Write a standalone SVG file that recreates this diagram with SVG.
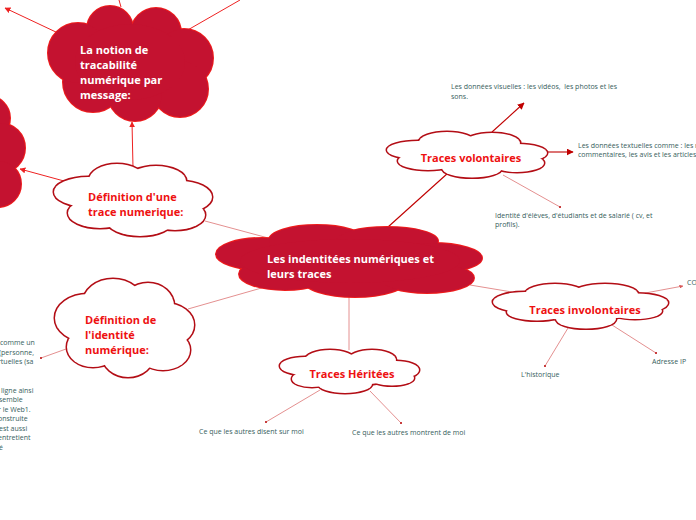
<svg xmlns="http://www.w3.org/2000/svg" xmlns:xlink="http://www.w3.org/1999/xlink" width="696" height="520" viewBox="0 0 696 520">
<style>
.bg{fill:#ffffff}
.ow{fill:#ffffff;stroke:#b30d15;stroke-width:3}
.fw{fill:#ffffff;stroke:none}
.of{fill:#c41230;stroke:#ee1c1c;stroke-width:2}
.ff{fill:#c41230;stroke:none}
.tw{font-family:"Open Sans","Noto Sans",sans-serif;font-weight:bold;font-size:11px;fill:#ffffff}
.tr{font-family:"Open Sans","Noto Sans",sans-serif;font-weight:bold;font-size:11px;fill:#ee1111}
.ts{font-family:"Open Sans","Noto Sans",sans-serif;font-size:7px;fill:#36605c}
.cd{stroke:#c00000;stroke-width:1.1;fill:none}
.cr{stroke:#ee2222;stroke-width:1;fill:none}
.cl{stroke:#e49090;stroke-width:1;fill:none}
</style>
<defs>
<marker id="ad" viewBox="0 0 10 10" refX="9" refY="5" markerWidth="7" markerHeight="7" orient="auto" markerUnits="userSpaceOnUse"><path d="M0,0L10,5L0,10z" fill="#c00000"/></marker>
<marker id="ar" viewBox="0 0 10 10" refX="9" refY="5" markerWidth="6" markerHeight="6" orient="auto" markerUnits="userSpaceOnUse"><path d="M0,0L10,5L0,10z" fill="#ee2222"/></marker>
<marker id="al" viewBox="0 0 10 10" refX="9" refY="5" markerWidth="4" markerHeight="4" orient="auto" markerUnits="userSpaceOnUse"><path d="M0,0L10,5L0,10z" fill="#d85858"/></marker>
<marker id="dot" viewBox="0 0 10 10" refX="5" refY="5" markerWidth="2.5" markerHeight="2.5" markerUnits="userSpaceOnUse"><circle cx="5" cy="5" r="5" fill="#c83a3a"/></marker>
<g id="c-central">
<ellipse cx="262" cy="254" rx="46" ry="16"/>
<ellipse cx="317" cy="240" rx="48" ry="15"/>
<ellipse cx="387" cy="241" rx="51" ry="14"/>
<ellipse cx="432" cy="258" rx="50" ry="15"/>
<ellipse cx="285" cy="274" rx="46" ry="16"/>
<ellipse cx="355" cy="280" rx="52" ry="17"/>
<ellipse cx="427" cy="278" rx="47" ry="15"/>
<ellipse cx="350" cy="261" rx="110" ry="22"/>
</g>
<g id="c-notion">
<circle cx="110" cy="29" r="23"/>
<circle cx="156" cy="33" r="25"/>
<circle cx="184" cy="58" r="29"/>
<circle cx="180" cy="89" r="28"/>
<circle cx="135" cy="94" r="27"/>
<circle cx="93" cy="82" r="30"/>
<circle cx="78" cy="53" r="30"/>
<ellipse cx="130" cy="62" rx="55" ry="38"/>
</g>
<g id="c-left">
<circle cx="-12" cy="118" r="22"/>
<circle cx="0" cy="148" r="25"/>
<circle cx="-2" cy="184" r="23"/>
</g>
<g id="c-deftrace">
<ellipse cx="88" cy="192" rx="34" ry="15"/>
<ellipse cx="117" cy="180" rx="28" ry="16"/>
<ellipse cx="156" cy="181" rx="30" ry="15"/>
<ellipse cx="180" cy="197" rx="32" ry="16"/>
<ellipse cx="175" cy="215" rx="30" ry="15"/>
<ellipse cx="140" cy="221" rx="33" ry="15"/>
<ellipse cx="100" cy="213" rx="32" ry="15"/>
<ellipse cx="133" cy="200" rx="60" ry="20"/>
</g>
<g id="c-defid">
<ellipse cx="88" cy="318" rx="33" ry="24"/>
<ellipse cx="113" cy="303" rx="30" ry="24"/>
<ellipse cx="148" cy="306" rx="26" ry="23"/>
<ellipse cx="165" cy="325" rx="29" ry="22"/>
<ellipse cx="163" cy="350" rx="27" ry="20"/>
<ellipse cx="128" cy="355" rx="26" ry="22"/>
<ellipse cx="93" cy="347" rx="26" ry="20"/>
<ellipse cx="125" cy="328" rx="50" ry="30"/>
</g>
<g id="c-vol">
<ellipse cx="418" cy="150" rx="31" ry="9"/>
<ellipse cx="447" cy="142" rx="28" ry="10"/>
<ellipse cx="492" cy="143" rx="28" ry="10"/>
<ellipse cx="518" cy="153" rx="29" ry="9"/>
<ellipse cx="517" cy="163" rx="27" ry="9"/>
<ellipse cx="472" cy="168" rx="30" ry="9.5"/>
<ellipse cx="428" cy="161" rx="30" ry="9"/>
<ellipse cx="467" cy="155" rx="65" ry="14"/>
</g>
<g id="c-invol">
<ellipse cx="525" cy="302" rx="32" ry="10"/>
<ellipse cx="555" cy="294" rx="30" ry="10"/>
<ellipse cx="605" cy="294" rx="33" ry="10"/>
<ellipse cx="637" cy="303" rx="31" ry="9.5"/>
<ellipse cx="635" cy="311" rx="27" ry="8"/>
<ellipse cx="586" cy="319" rx="30" ry="9.5"/>
<ellipse cx="537" cy="312" rx="30" ry="8.5"/>
<ellipse cx="580" cy="306" rx="70" ry="14"/>
</g>
<g id="c-her">
<ellipse cx="305" cy="366" rx="25" ry="9"/>
<ellipse cx="330" cy="360" rx="25" ry="10"/>
<ellipse cx="372" cy="360" rx="24" ry="10"/>
<ellipse cx="396" cy="370" rx="23" ry="9"/>
<ellipse cx="392" cy="378" rx="22" ry="7.5"/>
<ellipse cx="345" cy="384" rx="27" ry="9"/>
<ellipse cx="312" cy="379" rx="20" ry="8"/>
<ellipse cx="350" cy="372" rx="55" ry="13"/>
</g>
</defs>
<rect class="bg" x="0" y="0" width="696" height="520"/>
<g id="connectors">
<line class="cd" x1="388" y1="227" x2="448" y2="173"/>
<line class="cl" x1="272" y1="239" x2="205" y2="221"/>
<line class="cl" x1="265" y1="287" x2="188" y2="309"/>
<line class="cl" x1="470" y1="285" x2="512" y2="292"/>
<line class="cl" x1="349" y1="297" x2="349" y2="350"/>
<line class="cr" x1="133" y1="168" x2="132" y2="122" marker-end="url(#ar)"/>
<line class="cr" x1="64" y1="181" x2="20" y2="169" marker-end="url(#ar)"/>
<line class="cr" x1="58" y1="33" x2="5" y2="8" marker-end="url(#ar)"/>
<line class="cr" x1="121" y1="7" x2="119" y2="0"/>
<line class="cr" x1="186" y1="31" x2="240" y2="0"/>
<line class="cd" x1="492" y1="132" x2="524" y2="103" marker-end="url(#ad)"/>
<line class="cd" x1="546" y1="152" x2="573" y2="152" marker-end="url(#ad)"/>
<line class="cl" x1="503" y1="175" x2="560" y2="207" marker-end="url(#dot)"/>
<line class="cl" x1="66" y1="349" x2="41" y2="358" marker-end="url(#dot)"/>
<line class="cl" x1="640" y1="294" x2="683" y2="286" marker-end="url(#al)"/>
<line class="cl" x1="568" y1="328" x2="545" y2="366" marker-end="url(#dot)"/>
<line class="cl" x1="612" y1="325" x2="656" y2="353" marker-end="url(#dot)"/>
<line class="cl" x1="320" y1="390" x2="266" y2="422" marker-end="url(#dot)"/>
<line class="cl" x1="370" y1="391" x2="401" y2="423" marker-end="url(#dot)"/>
</g>
<g id="node-central">
<use xlink:href="#c-central" class="of"/>
<use xlink:href="#c-central" class="ff"/>
<text class="tw" x="267" y="263">Les indentitées numériques et</text>
<text class="tw" x="267" y="278">leurs traces</text>
</g>
<g id="node-notion">
<use xlink:href="#c-notion" class="of"/>
<use xlink:href="#c-notion" class="ff"/>
<text class="tw" x="80" y="54">La notion de</text>
<text class="tw" x="80" y="69">tracabilité</text>
<text class="tw" x="80" y="84">numérique par</text>
<text class="tw" x="80" y="99">message:</text>
</g>
<g id="node-left">
<use xlink:href="#c-left" class="of"/>
<use xlink:href="#c-left" class="ff"/>
</g>
<g id="node-deftrace">
<use xlink:href="#c-deftrace" class="ow"/>
<use xlink:href="#c-deftrace" class="fw"/>
<text class="tr" x="88" y="201">Définition d'une</text>
<text class="tr" x="88" y="216">trace numerique:</text>
</g>
<g id="node-defid">
<use xlink:href="#c-defid" class="ow"/>
<use xlink:href="#c-defid" class="fw"/>
<text class="tr" x="85" y="324">Définition de</text>
<text class="tr" x="85" y="339">l'identité</text>
<text class="tr" x="85" y="354">numérique:</text>
</g>
<g id="node-volontaires">
<use xlink:href="#c-vol" class="ow"/>
<use xlink:href="#c-vol" class="fw"/>
<text class="tr" x="471" y="162" text-anchor="middle">Traces volontaires</text>
</g>
<g id="node-involontaires">
<use xlink:href="#c-invol" class="ow"/>
<use xlink:href="#c-invol" class="fw"/>
<text class="tr" x="585" y="314" text-anchor="middle">Traces involontaires</text>
</g>
<g id="node-heritees">
<use xlink:href="#c-her" class="ow"/>
<use xlink:href="#c-her" class="fw"/>
<text class="tr" x="352" y="378" text-anchor="middle">Traces Héritées</text>
</g>
<g id="node-visuelles">
<text class="ts" x="451" y="89" xml:space="preserve">Les données visuelles : les vidéos,  les photos et les</text>
<text class="ts" x="451" y="99">sons.</text>
</g>
<g id="node-textuelles">
<text class="ts" x="578" y="148">Les données textuelles comme : les m</text>
<text class="ts" x="578" y="157">commentaires, les avis et les articles</text>
</g>
<g id="node-identite">
<text class="ts" x="495" y="218">Identité d'élèves, d'étudiants et de salarié ( cv, et</text>
<text class="ts" x="495" y="227">profils).</text>
</g>
<g id="node-co"><text class="ts" x="687" y="285">CO</text></g>
<g id="node-historique"><text class="ts" x="521" y="377">L'historique</text></g>
<g id="node-ip"><text class="ts" x="652" y="364">Adresse IP</text></g>
<g id="node-disent"><text class="ts" x="199" y="434">Ce que les autres disent sur moi</text></g>
<g id="node-montrent"><text class="ts" x="352" y="435">Ce que les autres montrent de moi</text></g>
<g id="node-leftdef">
<text class="ts" x="0" y="345">comme un</text>
<text class="ts" x="-1" y="355">(personne,</text>
<text class="ts" x="-2" y="364">rtuelles (sa</text>
<text class="ts" x="1" y="393">ligne ainsi</text>
<text class="ts" x="-1" y="402">semble</text>
<text class="ts" x="-2" y="412">r le Web1.</text>
<text class="ts" x="-2" y="421">onstruite</text>
<text class="ts" x="-1" y="431">est aussi</text>
<text class="ts" x="-2" y="440">entretient</text>
<text class="ts" x="-1" y="450">é</text>
</g>
</svg>
